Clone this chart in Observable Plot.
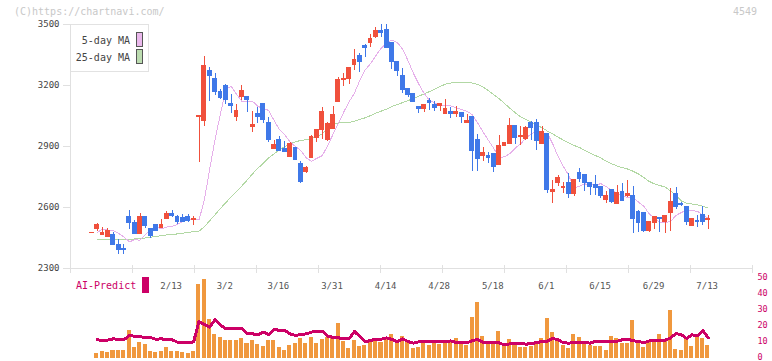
<!DOCTYPE html>
<html>
<head>
<meta charset="utf-8">
<script src="https://cdn.jsdelivr.net/npm/d3@7"></script>
<script src="https://cdn.jsdelivr.net/npm/@observablehq/plot@0.6"></script>
<style>
  body { margin: 0; background: #fff; }
  #chart { position: relative; width: 772px; height: 361px; overflow: hidden; background: #fff;
           font-family: "DejaVu Sans Mono", monospace; }
  #chart svg { position: absolute; left: 0; shape-rendering: crispEdges; }
  .note { position: absolute; font-size: 10px; line-height: 12px; color: #c8c8c8; white-space: nowrap; }
  #legend { position: absolute; left: 70px; top: 24px; width: 79px; height: 48px; box-sizing: border-box;
            border: 1px solid #e2e2e2; background: #fff; }
  .item { position: absolute; right: 18px; font-size: 10px; line-height: 12px; color: #444; white-space: nowrap; }
  .swatch { position: absolute; left: 65px; width: 7px; height: 15px; box-sizing: border-box; border: 1px solid #555; }
  #ai { position: absolute; left: 76px; top: 280px; font-size: 10px; line-height: 12px; color: #cc0066; }
  #aibox { position: absolute; left: 142px; top: 277px; width: 7px; height: 16px; background: #cc0066; }
</style>
</head>
<body>
<div id="chart">
  <div class="note" style="left:14px;top:6px;">(C)https://chartnavi.com/</div>
  <div class="note" style="left:733px;top:6px;">4549</div>
  <div id="legend">
    <div class="item" style="top:10px;">5-day MA</div>
    <div class="swatch" style="top:7px;background:#eab8ec;"></div>
    <div class="item" style="top:27px;">25-day MA</div>
    <div class="swatch" style="top:24px;background:#bcdcb0;"></div>
  </div>
  <div id="ai">AI-Predict</div>
  <div id="aibox"></div>
</div>
<script>
// Daily prices, one entry per trading session (oldest first)
const opens = [2473,2493,2467,2454,2467,2418,2398,2551,2526,2469, 2552,2495,2516,2498,2543,2570,2554,2549,2554,2538,
  3044,3025,3269,3230,3170,3200,3108,3044,3143,3141, 2998,3062,3111,3018,2887,2930,2889,2848,2895,2815,
  2774,2843,2943,2979,2930,2984,3121,3226,3231,3300, 3343,3393,3408,3438,3470,3474,3408,3318,3249,3185,
  3156,3092,3084,3126,3106,3098,3062,3069,3059,3064, 3015,3047,2930,2852,2852,2861,2808,2902,2912,3003,
  2946,2935,3015,3018,2912,2962,2676,2722,2698,2721, 2664,2770,2761,2720,2711,2700,2639,2684,2617,2674,
  2656,2659,2580,2575,2484,2523,2549,2531,2572,2664, 2618,2602,2508,2533,2561,2538];
const highs = [2477,2520,2504,2495,2475,2441,2418,2585,2536,2570, 2556,2495,2516,2541,2580,2585,2562,2564,2566,2557,
  3050,3343,3289,3259,3180,3207,3157,3107,3200,3146, 3072,3093,3112,3043,2931,2949,2925,2921,2895,2828,
  2803,2954,2984,3090,3018,3097,3241,3257,3284,3377, 3356,3402,3451,3487,3500,3500,3412,3320,3282,3186,
  3157,3097,3107,3136,3121,3110,3131,3093,3096,3065, 3057,3048,2959,2895,2872,2862,2954,2916,3036,3004,
  2998,3000,3025,3033,2998,2963,2733,2757,2725,2768, 2734,2792,2762,2721,2757,2701,2679,2685,2708,2716,
  2733,2705,2585,2576,2529,2556,2550,2557,2692,2700, 2626,2603,2545,2561,2605,2561];
const lows = [2473,2484,2465,2451,2415,2370,2370,2493,2469,2469, 2498,2449,2484,2498,2543,2549,2518,2530,2526,2513,
  2823,2998,3121,3151,3129,3107,3064,3025,3126,3069, 2971,3015,3015,2921,2887,2877,2872,2844,2834,2717,
  2765,2843,2921,2935,2926,2984,3116,3197,3203,3274, 3266,3336,3385,3430,3438,3380,3277,3244,3161,3143,
  3118,3061,3066,3079,3072,3074,3062,3036,3041,3015, 3011,2779,2779,2828,2818,2774,2806,2900,2910,2910,
  2907,2930,2930,2880,2910,2671,2621,2705,2671,2646, 2656,2725,2680,2661,2659,2646,2621,2618,2616,2629,
  2651,2470,2477,2475,2479,2493,2477,2470,2484,2592, 2605,2511,2508,2500,2511,2493];
const closes = [2476,2515,2473,2482,2415,2393,2392,2526,2469,2551, 2511,2459,2484,2516,2566,2559,2528,2530,2533,2543,
  3048,3298,3249,3167,3138,3131,3098,3077,3175,3128, 3008,3046,3030,2930,2905,2877,2872,2913,2834,2725,
  2793,2946,2979,3072,3010,3056,3228,3234,3284,3323, 3315,3382,3431,3466,3459,3384,3315,3270,3180,3151,
  3118,3084,3106,3115,3088,3108,3082,3059,3072,3044, 3025,2877,2839,2866,2844,2798,2902,2915,3002,2943,
  2954,2992,2990,2926,2969,2684,2684,2744,2701,2664, 2733,2738,2720,2700,2695,2656,2659,2626,2669,2630,
  2664,2543,2523,2482,2528,2552,2543,2556,2625,2602, 2610,2528,2544,2528,2531,2541];

// 25-day moving average as published with the chart
const ma25 = [null,2441,2441,2441,2441,2441,2441,2441,2446,2447, 2450,2454,2458,2462,2465,2468,2470,2474,2478,2481,
  2484,2505,2535,2565,2595,2624,2652,2680,2706,2735, 2766,2793,2818,2844,2864,2884,2900,2913,2923,2930,
  2933,2939,2949,2962,2987,3008,3016,3016,3018,3025, 3033,3041,3052,3064,3074,3084,3097,3106,3116,3126,
  3136,3147,3159,3170,3183,3195,3207,3212,3215,3215, 3215,3212,3205,3192,3175,3155,3135,3112,3088,3066,
  3046,3032,3019,3005,2992,2976,2962,2946,2931,2918, 2905,2895,2880,2868,2855,2843,2828,2815,2804,2796,
  2789,2778,2765,2747,2728,2716,2708,2700,2680,2660, 2632,2620,2617,2613,2606,2598];

// Lower panel: trading volume and AI-Predict score (0–50 scale)
const volumes = [null,3.3,4.4,3.75,5,5,5,17.5,6.9,10, 8.75,4.4,4,4.4,7.1,4.4,4.4,3.75,3.3,4.4,
  46.25,49.4,24.6,15,13.3,11.25,11.25,11.5,12.3,9.4, 11.25,8.75,7.5,11.25,11.25,6.9,5,8.1,9.4,12.5,
  9.4,13.1,9.4,11.9,13.3,13.75,21.9,10.6,6.25,11.25, 7.5,8.3,10.4,12.5,10,12.5,15,10,14,10,
  6.25,7.1,10,8.3,10,8.75,10,10.8,12.5,8.75, 8.3,25.8,35,14,10,10,16.9,7.5,11.9,8.1,
  6.9,6.9,7.5,8.75,12.5,25,16,12.3,8.1,6, 15,13.1,9.2,8.1,7.7,7.7,5,14,12.3,9.6,
  9.2,23.75,10.8,7.1,10.8,10.8,15,10.8,30,5.6, 5,11.9,7.5,13.75,12.3,8.1];
const aiPredict = [null,11.7,11.2,11.5,12.3,12,11.7,14.4,13.9,13.5, 13.3,13,12,12.3,11.7,11.7,10.2,10,9.8,10.4,
  23.1,21.25,19.6,24.4,21,18.5,18.75,19,18.75,15.4, 15.4,14.8,16.5,15,18.3,17.5,17.5,15.4,14.4,15,
  15.4,16.5,17.1,17.1,13.75,13.3,12.9,12.5,12.3,16.9, 13.75,10.4,11.25,12.1,12.1,12.9,11.9,10.4,12.3,10.6,
  9.6,10.4,10.4,10.4,10.4,10.4,10.4,11,10,9.8, 9.8,11.25,11.9,10,9.8,9.8,9.8,8.5,9.2,9.4,
  9.4,9,9.2,10,10.6,10.8,12.5,11.7,9.8,9.6, 10,10.2,10,9.6,10.8,10.4,10.4,10.4,10.8,11.7,
  12.1,11,10.8,9.8,11,11.25,11,11.5,12.9,15.6, 14.8,12.5,14.8,14.2,17.5,12.9];

// Axis labels
const dateLabels = ["2/13","3/2","3/16","3/31","4/14","4/28","5/18","6/1","6/15","6/29","7/13"];
const dateSessions = [15,25,35,45,55,65,75,85,95,105,115];
const priceTicks = [2300,2600,2900,3200,3500];
const scoreTicks = [0,10,20,30,40,50];

const RED = "#f0503c", BLUE = "#3f78e8", GRID = "#e0e0e0";
const PINK = "#e6b0ea", GREEN = "#b2d8a4", ORANGE = "#f0983e", MAGENTA = "#cc0066";
const FONT = "DejaVu Sans Mono, monospace";

const candles = opens.map((o, i) => ({i, open: o, high: highs[i], low: lows[i], close: closes[i]}));
const series = arr => arr.map((v, i) => ({i, v})).filter(d => d.v != null);
const candleColor = d => d.close >= d.open ? RED : BLUE;

// session index domain spanning the plot frame; the frame carries 12 evenly spaced ticks
const xDomain = [-3.974, 123.265];
const frameTicks = d3.range(12).map(j => xDomain[0] + j * (xDomain[1] - xDomain[0]) / 11);

const chart = document.getElementById("chart");

const priceChart = Plot.plot({
  width: 772, height: 276,
  marginTop: 24, marginBottom: 8, marginLeft: 70, marginRight: 20,
  x: {domain: xDomain, axis: null},
  y: {domain: [2300, 3500], axis: null},
  color: {type: "identity"},
  style: {background: "transparent", fontFamily: FONT, fontSize: "9px", overflow: "visible"},
  marks: [
    Plot.ruleY([2300], {stroke: GRID}),
    Plot.ruleX([xDomain[0]], {stroke: GRID}),
    Plot.ruleX(frameTicks, {y1: 2300, y2: 2300, insetTop: -3, insetBottom: -5, stroke: GRID}),
    Plot.axisY({ticks: priceTicks, tickSize: 7, tickPadding: 4, stroke: GRID, fill: "#444",
                fontSize: 9, label: null, tickFormat: d => String(d)}),
    Plot.line(series(ma25), {x: "i", y: "v", stroke: GREEN, strokeWidth: 1}),
    // 5-session average of closes, shown from the following session
    Plot.line(candles.slice(0, -1), Plot.windowY(
      {k: 5, anchor: "end", reduce: "mean", strict: false},
      {x: d => d.i + 1, y: "close", stroke: PINK, strokeWidth: 1})),
    Plot.ruleX(candles, {x: "i", y1: "low", y2: "high", stroke: candleColor, strokeWidth: 1}),
    Plot.rect(candles, {x1: d => d.i - 0.45, x2: d => d.i + 0.45, y1: "open", y2: "close",
                        fill: candleColor, insetTop: -0.5, insetBottom: -0.5})
  ]
});
priceChart.style.top = "0px";
chart.appendChild(priceChart);

const volumeChart = Plot.plot({
  width: 772, height: 91,
  marginTop: 8, marginBottom: 3, marginLeft: 70, marginRight: 20,
  x: {domain: xDomain, axis: null},
  y: {domain: [0, 50], axis: null},
  style: {background: "transparent", fontFamily: FONT, fontSize: "9px", overflow: "visible"},
  marks: [
    Plot.rect(series(volumes), {x1: d => d.i - 0.42, x2: d => d.i + 0.33, y1: 0, y2: "v", fill: ORANGE}),
    Plot.line(series(aiPredict), {x: "i", y: "v", stroke: MAGENTA, strokeWidth: 3}),
    Plot.axisY({anchor: "right", ticks: scoreTicks, tickSize: 0, tickPadding: 5, fill: MAGENTA,
                fontSize: 8.5, dy: -1.5, label: null}),
    Plot.text(dateLabels, {x: (d, j) => dateSessions[j], text: d => d, frameAnchor: "top", dy: 4,
                           dx: -1, fill: "#555", fontSize: 9})
  ]
});
volumeChart.style.top = "270px";
chart.appendChild(volumeChart);
</script>
</body>
</html>
